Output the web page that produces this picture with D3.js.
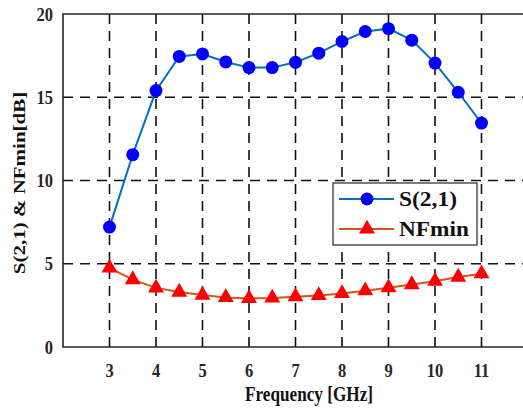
<!DOCTYPE html>
<html><head><meta charset="utf-8">
<script src="https://cdn.jsdelivr.net/npm/d3@7"></script>
<style>body{margin:0;background:#fff}svg{display:block}text{font-family:"Liberation Serif","Times New Roman",serif;font-weight:bold}</style>
</head><body>
<svg id="c" width="523" height="410"></svg>
<script>
const freq = [3,3.5,4,4.5,5,5.5,6,6.5,7,7.5,8,8.5,9,9.5,10,10.5,11];
const s21 = [7.2,11.55,15.4,17.45,17.6,17.12,16.78,16.78,17.1,17.65,18.35,18.95,19.12,18.43,17.05,15.3,13.45];
const nfmin = [4.75,4.05,3.55,3.3,3.12,2.98,2.92,2.95,3.02,3.1,3.22,3.38,3.56,3.75,3.95,4.2,4.4];
const xTicks = [3,4,5,6,7,8,9,10,11];
const yTicks = [0,5,10,15,20];
const seriesNames = ["S(2,1)","NFmin"];

const svg = d3.select("#c");
const x = d3.scaleLinear().domain([2,12]).range([63, 528]);
const y = d3.scaleLinear().domain([0,20]).range([347, 14]);
const SY = 1.2;

// grid
const g = svg.append("g");
g.selectAll("line.vx").data(xTicks).join("line")
  .attr("x1",d=>x(d)).attr("x2",d=>x(d)).attr("y1",y(0)).attr("y2",y(20))
  .attr("stroke","#111").attr("stroke-width",1.6).attr("stroke-dasharray","10,7");
g.selectAll("line.hy").data(yTicks.filter(d=>d>0&&d<20)).join("line")
  .attr("x1",x(2)).attr("x2",x(12)).attr("y1",d=>y(d)).attr("y2",d=>y(d))
  .attr("stroke","#111").attr("stroke-width",1.6).attr("stroke-dasharray","10,7");

// axes box
svg.append("path").attr("d",`M${x(12)},${y(20)}H${x(2)}V${y(0)}H${x(12)}`)
  .attr("fill","none").attr("stroke","#262626").attr("stroke-width",1.6);

// tick labels
svg.selectAll("text.xt").data(xTicks).join("text")
  .attr("transform",d=>`translate(${x(d)},377) scale(1,${SY})`).attr("text-anchor","middle")
  .attr("font-size",16.5).attr("fill","#262626").text(d=>d);
svg.selectAll("text.yt").data(yTicks).join("text")
  .attr("transform",d=>`translate(53,${y(d)+6.5}) scale(1,${SY})`).attr("text-anchor","end")
  .attr("font-size",16.5).attr("fill","#262626").text(d=>d);

svg.append("text").attr("transform",`translate(309,401) scale(1,${SY})`).attr("text-anchor","middle")
  .attr("font-size",17.2).attr("fill","#111").text("Frequency [GHz]");
svg.append("text").attr("transform",`translate(25,183) rotate(-90) scale(${SY},1)`)
  .attr("text-anchor","middle").attr("font-size",17.5).attr("fill","#111").text("S(2,1) & NFmin[dB]");

const line = d3.line().x(d=>x(d[0])).y(d=>y(d[1]));
const d1 = freq.map((f,i)=>[f,s21[i]]);
const d2 = freq.map((f,i)=>[f,nfmin[i]]);
svg.append("path").datum(d1).attr("d",line).attr("fill","none").attr("stroke","#0072BD").attr("stroke-width",2);
svg.selectAll("circle.s").data(d1).join("circle").attr("cx",d=>x(d[0])).attr("cy",d=>y(d[1])).attr("r",6.5).attr("fill","#0000FF");
svg.append("path").datum(d2).attr("d",line).attr("fill","none").attr("stroke","#D95319").attr("stroke-width",2);
const tri = d3.symbol().type(d3.symbolTriangle).size(110);
svg.selectAll("path.t").data(d2).join("path").attr("d",tri)
  .attr("transform",d=>`translate(${x(d[0])},${y(d[1])})`).attr("fill","#FF0000");

// legend
const lg = svg.append("g");
lg.append("rect").attr("x",333).attr("y",183).attr("width",144).attr("height",62)
  .attr("fill","#fff").attr("stroke","#262626").attr("stroke-width",1.2);
const ly = [199,229];
lg.append("line").attr("x1",339).attr("x2",394).attr("y1",ly[0]).attr("y2",ly[0]).attr("stroke","#0072BD").attr("stroke-width",2);
lg.append("circle").attr("cx",367).attr("cy",ly[0]).attr("r",6.5).attr("fill","#0000FF");
lg.append("line").attr("x1",339).attr("x2",394).attr("y1",ly[1]).attr("y2",ly[1]).attr("stroke","#D95319").attr("stroke-width",2);
lg.append("path").attr("d",tri).attr("transform",`translate(367,${ly[1]})`).attr("fill","#FF0000");
const legW = [58,70];
lg.selectAll("text").data(seriesNames).join("text")
  .attr("transform",(d,i)=>`translate(399,${ly[i]+6.5}) scale(1,${SY})`)
  .attr("font-size",18).attr("fill","#111")
  .attr("textLength",(d,i)=>legW[i]).attr("lengthAdjust","spacingAndGlyphs").text(d=>d);
</script>
</body></html>
